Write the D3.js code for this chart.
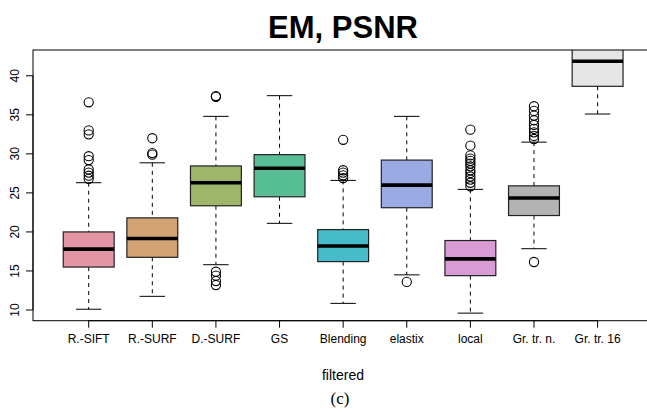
<!DOCTYPE html>
<html><head><meta charset="utf-8">
<script src="https://cdn.jsdelivr.net/npm/d3@7"></script>
<style>body{margin:0;background:#fff}svg{display:block}</style>
</head><body>
<svg id="c" width="647" height="414"></svg>
<script>
const categories = ["R.-SIFT","R.-SURF","D.-SURF","GS","Blending","elastix","local","Gr. tr. n.","Gr. tr. 16"];
const whiskerLow  = [10.1, 11.75, 15.8, 21.1, 10.85, 14.5, 9.6, 17.85, 35.1];
const q1          = [15.5, 16.75, 23.35, 24.5, 16.2, 23.1, 14.4, 22.1, 38.65];
const medians     = [17.8, 19.15, 26.3, 28.15, 18.2, 26.0, 16.55, 24.35, 41.85];
const q3          = [20.0, 21.8, 28.45, 29.9, 20.3, 29.2, 18.9, 25.9, 44.5];
const whiskerHigh = [26.3, 28.85, 34.8, 37.45, 26.6, 34.8, 25.45, 31.5, 47];
const outliers = [
  [36.6, 33.0, 32.5, 29.7, 29.2, 28.0, 27.6, 27.2, 26.8],
  [32.0, 30.1, 29.9],
  [37.4, 37.3, 14.9, 14.4, 13.7, 13.2],
  [],
  [31.8, 27.9, 27.6, 27.25, 26.9],
  [13.6],
  [33.1, 31.05, 29.8, 29.4, 29.1, 28.75, 28.4, 27.9, 27.55, 27.1, 26.7, 26.3, 25.85],
  [36.1, 35.5, 34.9, 34.3, 33.7, 33.2, 32.75, 32.3, 31.9, 16.15],
  []
];
const colors = ["#E495A5","#D2A274","#9DB66A","#57BE95","#47BCC9","#9AABE3","#D99BD4","#B3B3B3","#E6E6E6"];
const yTicks = [10, 15, 20, 25, 30, 35, 40];
const title = "EM, PSNR";
const xTitle = "filtered";
const caption = "(c)";

const svg = d3.select("#c");
const L = 33, R = 653, T = 50, B = 320.7;
const y = d3.scaleLinear().domain([8.63, 43.3]).range([B, T]);
const x = d3.scalePoint().domain(categories).range([88.7, 597.6]);
const step = x.step();
const bw = step * 0.8;
const cw = bw * 0.5;

svg.append("defs").append("clipPath").attr("id","clip")
  .append("rect").attr("x", L).attr("y", T).attr("width", R - L).attr("height", B - T);

const g = svg.append("g").attr("clip-path","url(#clip)");
const font = "Liberation Sans, Arial, sans-serif";

categories.forEach((c, i) => {
  const cx = x(c);
  const gg = g.append("g");
  gg.append("line").attr("x1",cx).attr("x2",cx).attr("y1",y(whiskerHigh[i])).attr("y2",y(q3[i]))
    .attr("stroke","#000").attr("stroke-width",1).attr("stroke-dasharray","4,4");
  gg.append("line").attr("x1",cx).attr("x2",cx).attr("y1",y(q1[i])).attr("y2",y(whiskerLow[i]))
    .attr("stroke","#000").attr("stroke-width",1).attr("stroke-dasharray","4,4");
  [whiskerHigh[i], whiskerLow[i]].forEach(v => {
    gg.append("line").attr("x1",cx-cw/2).attr("x2",cx+cw/2).attr("y1",y(v)).attr("y2",y(v))
      .attr("stroke","#000").attr("stroke-width",1);
  });
  gg.append("rect").attr("x",cx-bw/2).attr("width",bw).attr("y",y(q3[i])).attr("height",y(q1[i])-y(q3[i]))
    .attr("fill",colors[i]).attr("stroke","#222").attr("stroke-width",1.2);
  gg.append("line").attr("x1",cx-bw/2).attr("x2",cx+bw/2).attr("y1",y(medians[i])).attr("y2",y(medians[i]))
    .attr("stroke","#000").attr("stroke-width",3.6);
  outliers[i].forEach(v => {
    gg.append("circle").attr("cx",cx).attr("cy",y(v)).attr("r",4.6)
      .attr("fill","none").attr("stroke","#000").attr("stroke-width",1.1);
  });
});

svg.append("rect").attr("x",L).attr("y",T).attr("width",R-L).attr("height",B-T)
  .attr("fill","none").attr("stroke","#000").attr("stroke-width",1);

const ya = svg.append("g");
ya.append("line").attr("x1",L).attr("x2",L).attr("y1",y(10)).attr("y2",y(40)).attr("stroke","#000");
yTicks.forEach(t => {
  ya.append("line").attr("x1",L-7).attr("x2",L).attr("y1",y(t)).attr("y2",y(t)).attr("stroke","#000");
  ya.append("text").attr("transform",`translate(19,${y(t)}) rotate(-90)`)
    .attr("text-anchor","middle").attr("font-family",font).attr("font-size",12).text(t);
});

const xa = svg.append("g");
xa.append("line").attr("x1",x(categories[0])).attr("x2",x(categories[categories.length-1]))
  .attr("y1",B).attr("y2",B).attr("stroke","#000");
categories.forEach(c => {
  xa.append("line").attr("x1",x(c)).attr("x2",x(c)).attr("y1",B).attr("y2",B+7).attr("stroke","#000");
  xa.append("text").attr("x",x(c)).attr("y",343).attr("text-anchor","middle")
    .attr("font-family",font).attr("font-size",12).text(c);
});

svg.append("text").attr("x",343).attr("y",38).attr("text-anchor","middle")
  .attr("font-family",font).attr("font-weight","bold").attr("font-size",31).text(title);
svg.append("text").attr("x",343).attr("y",380).attr("text-anchor","middle")
  .attr("font-family",font).attr("font-size",14).text(xTitle);
svg.append("text").attr("x",340).attr("y",404).attr("text-anchor","middle")
  .attr("font-family","Liberation Serif, Times New Roman, serif").attr("font-size",17).text(caption);
</script>
</body></html>
